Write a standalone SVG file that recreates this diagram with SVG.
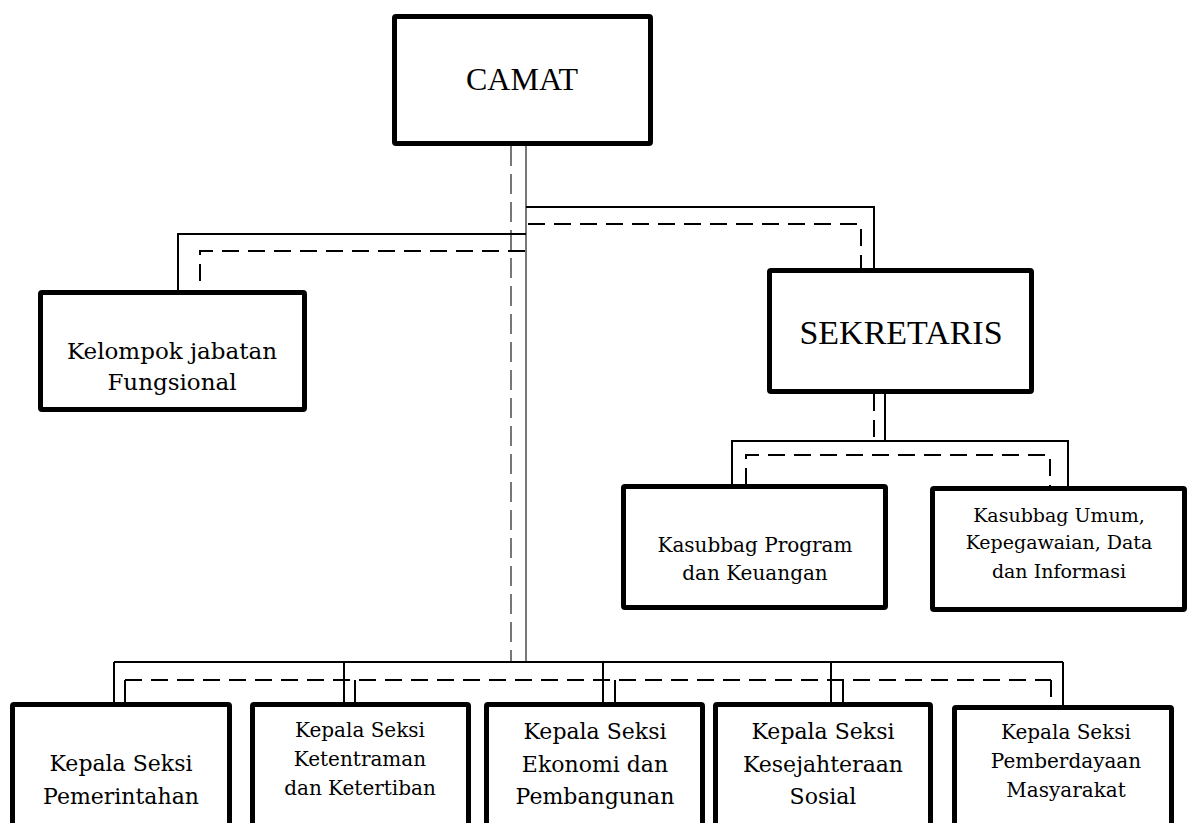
<svg xmlns="http://www.w3.org/2000/svg" width="1188" height="823" viewBox="0 0 1188 823">
<style>
.box{fill:#fff;stroke:#000;stroke-width:5;stroke-linejoin:round}
.ln{fill:none;stroke:#000;stroke-width:2}
.ds{fill:none;stroke:#000;stroke-width:2;stroke-dasharray:17 9}
.gl{fill:none;stroke:#777;stroke-width:2}
.gd{fill:none;stroke:#777;stroke-width:2;stroke-dasharray:20 8}
.big{font-family:"Liberation Serif","Times New Roman",serif;text-anchor:middle;fill:#000}
.t{font-family:"DejaVu Serif",serif;text-anchor:middle;fill:#000}
</style>
<rect width="1188" height="823" fill="#fff"/>
<g id="connectors">
<line class="gl" x1="526" y1="146" x2="526" y2="663"/>
<line class="gd" x1="511" y1="146" x2="511" y2="663"/>
<polyline class="ln" points="526,207 874,207 874,268"/>
<polyline class="ds" points="528,224 861,224 861,268"/>
<polyline class="ln" points="526,234 178,234 178,290"/>
<polyline class="ds" points="525,251 200,251 200,290"/>
<line class="ln" x1="885" y1="394" x2="885" y2="441"/>
<line class="ds" x1="874" y1="394" x2="874" y2="441"/>
<polyline class="ln" points="732,485 732,441 1068,441 1068,486"/>
<polyline class="ds" points="746,485 746,455 1050,455 1050,486"/>
<line class="ln" x1="114" y1="662" x2="1063" y2="662"/>
<line class="ln" x1="114" y1="662" x2="114" y2="702"/>
<line class="ln" x1="344" y1="662" x2="344" y2="702"/>
<line class="ln" x1="603" y1="662" x2="603" y2="702"/>
<line class="ln" x1="831" y1="662" x2="831" y2="702"/>
<line class="ln" x1="1063" y1="662" x2="1063" y2="705"/>
<line class="ds" x1="125" y1="680" x2="1051" y2="680"/>
<line class="ln" x1="125" y1="680" x2="125" y2="702"/>
<line class="ln" x1="355" y1="680" x2="355" y2="702"/>
<line class="ln" x1="615" y1="680" x2="615" y2="702"/>
<line class="ln" x1="843" y1="680" x2="843" y2="702"/>
<line class="ds" x1="1051" y1="680" x2="1051" y2="705"/>
</g>
<g id="camat">
<rect class="box" x="394.5" y="16.5" width="256" height="127" rx="1.5"/>
<text class="big" x="522" y="90" font-size="32">CAMAT</text>
</g>
<g id="kelompok">
<rect class="box" x="40.5" y="292.5" width="264" height="117" rx="1.5"/>
<text class="t" x="172" y="359" font-size="23">Kelompok jabatan</text>
<text class="t" x="172" y="390" font-size="23">Fungsional</text>
</g>
<g id="sekretaris">
<rect class="box" x="769.5" y="270.5" width="262" height="121" rx="1.5"/>
<text class="big" x="901" y="344" font-size="34">SEKRETARIS</text>
</g>
<g id="kasubbag-program">
<rect class="box" x="623.5" y="486.5" width="262" height="121" rx="1.5"/>
<text class="t" x="755" y="552" font-size="20">Kasubbag Program</text>
<text class="t" x="755" y="580" font-size="20">dan Keuangan</text>
</g>
<g id="kasubbag-umum">
<rect class="box" x="932.5" y="488.5" width="252" height="121" rx="1.5"/>
<text class="t" x="1059" y="522" font-size="19">Kasubbag Umum,</text>
<text class="t" x="1059" y="549" font-size="19">Kepegawaian, Data</text>
<text class="t" x="1059" y="578" font-size="19">dan Informasi</text>
</g>
<g id="seksi-pemerintahan">
<rect class="box" x="12.5" y="704.5" width="217" height="121" rx="1.5"/>
<text class="t" x="121" y="771" font-size="22">Kepala Seksi</text>
<text class="t" x="121" y="804" font-size="22">Pemerintahan</text>
</g>
<g id="seksi-ketentraman">
<rect class="box" x="252.5" y="704.5" width="216" height="121" rx="1.5"/>
<text class="t" x="360" y="737" font-size="20">Kepala Seksi</text>
<text class="t" x="360" y="766" font-size="20">Ketentraman</text>
<text class="t" x="360" y="795" font-size="20">dan Ketertiban</text>
</g>
<g id="seksi-ekonomi">
<rect class="box" x="486.5" y="704.5" width="216" height="121" rx="1.5"/>
<text class="t" x="595" y="739" font-size="22">Kepala Seksi</text>
<text class="t" x="595" y="772" font-size="22">Ekonomi dan</text>
<text class="t" x="595" y="804" font-size="22">Pembangunan</text>
</g>
<g id="seksi-kesejahteraan">
<rect class="box" x="715.5" y="704.5" width="215" height="121" rx="1.5"/>
<text class="t" x="823" y="739" font-size="22">Kepala Seksi</text>
<text class="t" x="823" y="772" font-size="22">Kesejahteraan</text>
<text class="t" x="823" y="804" font-size="22">Sosial</text>
</g>
<g id="seksi-pemberdayaan">
<rect class="box" x="954.5" y="707.5" width="217" height="121" rx="1.5"/>
<text class="t" x="1066" y="739" font-size="20">Kepala Seksi</text>
<text class="t" x="1066" y="768" font-size="20">Pemberdayaan</text>
<text class="t" x="1066" y="797" font-size="20">Masyarakat</text>
</g>
</svg>
